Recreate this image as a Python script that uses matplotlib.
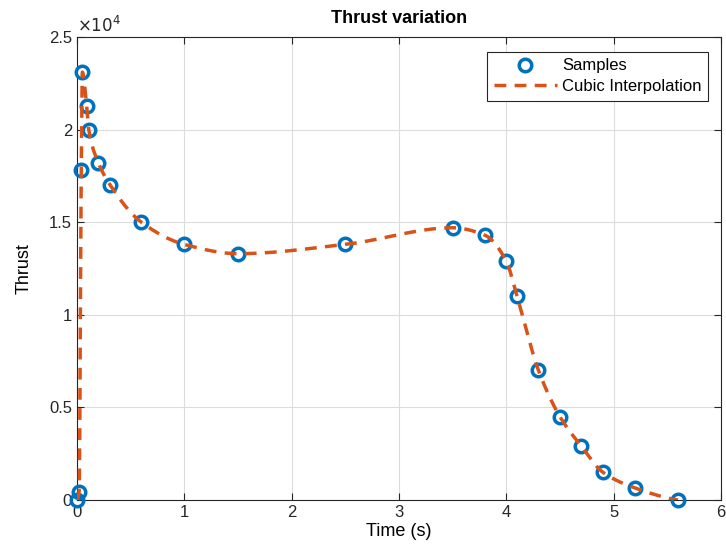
import numpy as np
import matplotlib.pyplot as plt
from matplotlib.ticker import FuncFormatter

# thrust samples
time_s = [0, 0.02, 0.04, 0.05, 0.09, 0.11, 0.2, 0.31, 0.6, 1.0, 1.5, 2.5,
          3.5, 3.8, 4.0, 4.1, 4.3, 4.5, 4.7, 4.9, 5.2, 5.6]
thrust = [0, 450, 17800, 23100, 21300, 20000, 18200, 17000, 15000, 13800,
          13300, 13800, 14700, 14300, 12900, 11000, 7000, 4500, 2900, 1500,
          650, 0]


def pchip(x, y, xq):
    # shape preserving piecewise cubic (MATLAB interp1 'cubic')
    x = np.asarray(x, float)
    y = np.asarray(y, float)
    h = np.diff(x)
    delta = np.diff(y) / h
    n = len(x)
    d = np.zeros(n)
    for k in range(1, n - 1):
        if delta[k - 1] * delta[k] > 0:
            w1 = 2 * h[k] + h[k - 1]
            w2 = h[k] + 2 * h[k - 1]
            d[k] = (w1 + w2) / (w1 / delta[k - 1] + w2 / delta[k])

    def end_slope(h0, h1, del0, del1):
        s = ((2 * h0 + h1) * del0 - h0 * del1) / (h0 + h1)
        if np.sign(s) != np.sign(del0):
            s = 0
        elif np.sign(del0) != np.sign(del1) and abs(s) > abs(3 * del0):
            s = 3 * del0
        return s

    d[0] = end_slope(h[0], h[1], delta[0], delta[1])
    d[-1] = end_slope(h[-1], h[-2], delta[-1], delta[-2])
    idx = np.clip(np.searchsorted(x, xq) - 1, 0, n - 2)
    t = xq - x[idx]
    hk = h[idx]
    c = (3 * delta[idx] - 2 * d[idx] - d[idx + 1]) / hk
    b = (d[idx] - 2 * delta[idx] + d[idx + 1]) / hk ** 2
    return y[idx] + t * (d[idx] + t * (c + t * b))


t_fine = np.linspace(0, 5.6, 3000)
thrust_fine = pchip(time_s, thrust, t_fine)

plt.rcParams['font.family'] = ['Liberation Sans', 'DejaVu Sans']
fig = plt.figure(figsize=(7.26, 5.56), dpi=100)
ax = fig.add_axes([0.106, 0.1007, 0.887, 0.8328])

ax.plot(time_s, thrust, 'o', ms=9, mfc='none', mec='#0072BD', mew=2.5,
        label='Samples', clip_on=False, zorder=3)
ax.plot(t_fine, thrust_fine, '--', color='#D95319', lw=2.5,
        dashes=(3.4, 2.4), label='Cubic Interpolation', zorder=4)

ax.set_xlim(0, 6)
ax.set_ylim(0, 25000)
ax.set_xticks(range(0, 7))
ax.set_yticks([0, 5000, 10000, 15000, 20000, 25000])
ax.yaxis.set_major_formatter(FuncFormatter(lambda v, p: f"{v / 1e4:g}"))
ax.grid(True, color='#dcdcdc', lw=0.8)
ax.set_axisbelow(True)
ax.tick_params(direction='in', top=True, right=True, labelsize=12,
               colors='#262626', length=5)
for s in ax.spines.values():
    s.set_color('#262626')
    s.set_linewidth(0.8)

ax.text(0.0, 1.005, r'$\times10^4$', transform=ax.transAxes, fontsize=12,
        color='#262626', va='bottom', ha='left')
ax.set_title('Thrust variation', fontsize=13, fontweight='bold', pad=10)
ax.set_xlabel('Time (s)', fontsize=13, labelpad=2)
ax.set_ylabel('Thrust', fontsize=13, labelpad=12)

leg = ax.legend(loc='upper right', fontsize=12, fancybox=False,
                framealpha=1, edgecolor='#262626', borderpad=0.4,
                handlelength=3.8, handletextpad=0.3, labelspacing=0.35,
                borderaxespad=0, bbox_to_anchor=(0.98, 0.968))
leg.get_frame().set_linewidth(0.8)

fig.savefig('out.png', dpi=100)
